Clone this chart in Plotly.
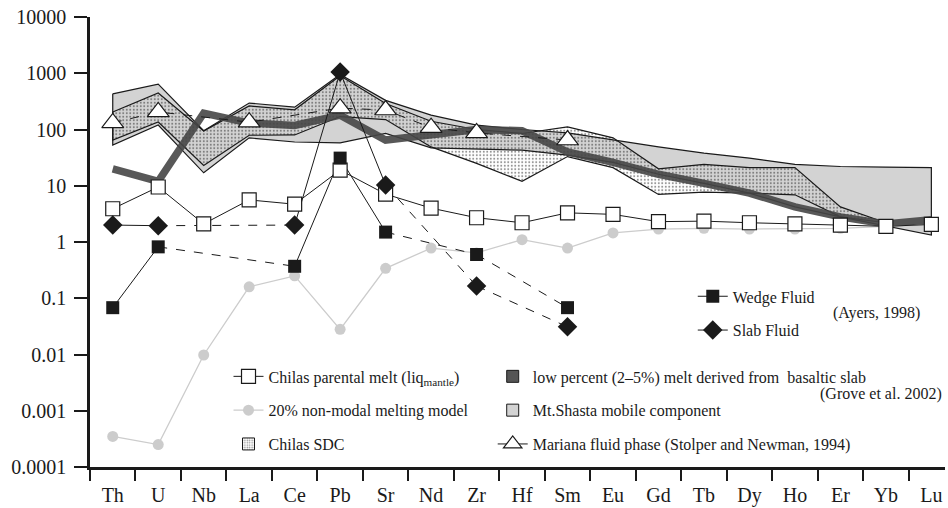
import plotly.graph_objects as go

cats = ["Th", "U", "Nb", "La", "Ce", "Pb", "Sr", "Nd", "Zr", "Hf", "Sm",
        "Eu", "Gd", "Tb", "Dy", "Ho", "Er", "Yb", "Lu"]

chilas_melt = [3.9, 9.5, 2.1, 5.6, 4.7, 19, 7.1, 4.0, 2.7, 2.2, 3.3,
               3.1, 2.3, 2.35, 2.2, 2.1, 2.0, 1.9, 2.05]
model20 = [0.00035, 0.00025, 0.0098, 0.16, 0.25, 0.028, 0.34, 0.78, 0.64, 1.1, 0.78,
           1.45, 1.7, 1.75, 1.7, 1.7, 1.75, 1.9, 2.0]
wedge_fluid = [0.068, 0.82, None, None, 0.37, 31, 1.5, None, 0.6, None, 0.068,
               None, None, None, None, None, None, None, None]
slab_fluid = [2.0, 1.95, None, None, 2.0, 1050, 10.3, None, 0.165, None, 0.031,
              None, None, None, None, None, None, None, None]
mariana = [131, 205, None, 135, None, 240, 222, 108, 87, None, 65,
           None, None, None, None, None, None, None, None]
low_melt = [20, 12, 195, 130, 118, 180, 65, 78, 100, 95, 40,
            26, 16, 11, 7.4, 4.2, 2.8, 2.1, 2.5]
shasta_top = [430, 640, 95, 295, 250, 950, 330, 180, 120, 100, 87,
              65, 49, 38, 31, 24, 22, 21.5, 21]
shasta_bot = [53, 120, 17, 71, 60, 58, 85, 47, 45, 43, 35,
              26, 16, 11, 7.4, 4.2, 2.8, 1.9, 1.33]
sdc_top = [205, 446, 94, 262, 224, 900, 290, 140, 100, 85, 111,
           71, 20, 24, 21, 21, 4.2, 2.2, None]
sdc_bot = [65, 136, 23, 79, 80, 170, 150, 49, 25, 12, 33,
           21, 7, 7.7, 7.4, 6.9, 2.8, 2.2, None]

# which neighbouring samples are joined by solid / dashed segments
fluid_solid = [(0, 1), (4, 5), (5, 6)]
fluid_dash = [(1, 4), (6, 8), (8, 10)]

FONT = "Liberation Serif"
INK = "#1a1a1a"


def band(top, bot):
    idx = [i for i in range(len(cats)) if top[i] is not None and bot[i] is not None]
    xs = [cats[i] for i in idx] + [cats[i] for i in reversed(idx)] + [cats[idx[0]]]
    ys = [top[i] for i in idx] + [bot[i] for i in reversed(idx)] + [top[idx[0]]]
    return xs, ys


def segs(vals, pairs):
    xs, ys = [], []
    for a, b in pairs:
        xs += [cats[a], cats[b], None]
        ys += [vals[a], vals[b], None]
    return xs, ys


def pts(vals):
    idx = [i for i, v in enumerate(vals) if v is not None]
    return [cats[i] for i in idx], [vals[i] for i in idx]


fig = go.Figure()

# Mt. Shasta band
bx, by = band(shasta_top, shasta_bot)
fig.add_trace(go.Scatter(x=bx, y=by, mode="lines", fill="toself", fillcolor="#d3d3d3",
                         line=dict(color=INK, width=1.2), showlegend=False, hoverinfo="skip"))
# Chilas SDC band
bx, by = band(sdc_top, sdc_bot)
fig.add_trace(go.Scatter(x=bx, y=by, mode="lines", fill="toself", fillcolor="rgba(0,0,0,0)",
                         fillpattern=dict(shape=".", fgcolor="#222", bgcolor="rgba(0,0,0,0)",
                                          size=3.5, solidity=0.25),
                         line=dict(color=INK, width=1.2), showlegend=False, hoverinfo="skip"))
# low percent melt (thick dark band)
fig.add_trace(go.Scatter(x=cats, y=low_melt, mode="lines",
                         line=dict(color="rgba(70,70,70,0.9)", width=7.5),
                         showlegend=False, hoverinfo="skip"))

# 20% non-modal melting model
fig.add_trace(go.Scatter(x=cats, y=model20, mode="lines+markers",
                         line=dict(color="#cccccc", width=1.3),
                         marker=dict(symbol="circle", size=11, color="#cccccc"),
                         name="20% non-modal melting model", legend="legend",
                         legendgroup="g2", legendrank=2))

# fluid lines
for vals in (wedge_fluid, slab_fluid):
    sx, sy = segs(vals, fluid_solid)
    fig.add_trace(go.Scatter(x=sx, y=sy, mode="lines", line=dict(color=INK, width=1),
                             showlegend=False, hoverinfo="skip"))
    dx, dy = segs(vals, fluid_dash)
    fig.add_trace(go.Scatter(x=dx, y=dy, mode="lines",
                             line=dict(color=INK, width=1, dash="dash"),
                             showlegend=False, hoverinfo="skip"))

# Chilas parental melt
fig.add_trace(go.Scatter(x=cats, y=chilas_melt, mode="lines+markers",
                         line=dict(color=INK, width=1),
                         marker=dict(symbol="square", size=14, color="white",
                                     line=dict(color=INK, width=1.2)),
                         name="Chilas parental melt (liq<sub>mantle</sub>)", legend="legend",
                         legendgroup="g1", legendrank=1))

# Mariana fluid (dashed in plot)
mx, my = pts(mariana)
fig.add_trace(go.Scatter(x=mx, y=my, mode="lines+markers",
                         line=dict(color=INK, width=1, dash="dash"),
                         marker=dict(symbol="triangle-up", size=19, color="white",
                                     line=dict(color=INK, width=1.2)),
                         showlegend=False))

# fluid markers
wx, wy = pts(wedge_fluid)
fig.add_trace(go.Scatter(x=wx, y=wy, mode="markers",
                         marker=dict(symbol="square", size=13, color=INK),
                         showlegend=False))
sx, sy = pts(slab_fluid)
fig.add_trace(go.Scatter(x=sx, y=sy, mode="markers",
                         marker=dict(symbol="diamond", size=15, color=INK),
                         showlegend=False))

# legend-only entries
fig.add_trace(go.Bar(x=[None], y=[None], name="Chilas SDC", legend="legend",
                     legendgroup="g3", legendrank=3,
                     marker=dict(color="white", line=dict(color=INK, width=1),
                                 pattern=dict(shape=".", fgcolor="#222", bgcolor="white",
                                              size=3, solidity=0.3))))
fig.add_trace(go.Bar(x=[None], y=[None], name="low percent (2–5%) melt derived from  basaltic slab",
                     legend="legend2", legendgroup="h1", legendrank=1,
                     marker=dict(color="#555555", line=dict(color=INK, width=1))))
fig.add_trace(go.Bar(x=[None], y=[None], name="Mt.Shasta mobile component",
                     legend="legend2", legendgroup="h2", legendrank=2,
                     marker=dict(color="#d3d3d3", line=dict(color=INK, width=1))))
fig.add_trace(go.Scatter(x=[None], y=[None], mode="lines+markers",
                         name="Mariana fluid phase (Stolper and Newman, 1994)",
                         legend="legend2", legendgroup="h3", legendrank=3,
                         line=dict(color=INK, width=1),
                         marker=dict(symbol="triangle-up", size=19, color="white",
                                     line=dict(color=INK, width=1.2))))
fig.add_trace(go.Scatter(x=[None], y=[None], mode="lines+markers", name="Wedge Fluid",
                         legend="legend3", legendgroup="k1", legendrank=1,
                         line=dict(color=INK, width=1),
                         marker=dict(symbol="square", size=13, color=INK)))
fig.add_trace(go.Scatter(x=[None], y=[None], mode="lines+markers", name="Slab Fluid",
                         legend="legend3", legendgroup="k2", legendrank=2,
                         line=dict(color=INK, width=1),
                         marker=dict(symbol="diamond", size=15, color=INK)))

leg_common = dict(bgcolor="rgba(0,0,0,0)", font=dict(family=FONT, size=16, color=INK),
                  traceorder="grouped", tracegroupgap=10, xanchor="left", yanchor="top",
                  itemclick=False)

yticks = [0.0001, 0.001, 0.01, 0.1, 1, 10, 100, 1000, 10000]
ytext = ["0.0001", "0.001", "0.01", "0.1", "1", "10", "100", "1000", "10000"]

fig.update_layout(
    width=948, height=508,
    margin=dict(l=90, r=3, t=17, b=41),
    paper_bgcolor="white", plot_bgcolor="white",
    font=dict(family=FONT, color=INK),
    showlegend=True,
    legend=dict(x=0.162, y=0.239, **leg_common),
    legend2=dict(x=0.471, y=0.239, **leg_common),
    legend3=dict(x=0.705, y=0.417, **leg_common),
    xaxis=dict(type="category", categoryorder="array", categoryarray=cats,
               range=[-0.5, 18.3], showgrid=False, zeroline=False, automargin=False,
               showline=True, linecolor=INK, linewidth=2.5,
               ticks="outside", ticklen=11, tickwidth=2, tickcolor=INK,
               tickson="boundaries", ticklabelstandoff=8,
               tickfont=dict(family=FONT, size=20, color=INK)),
    yaxis=dict(type="log", range=[-4, 4], showgrid=False, zeroline=False, automargin=False,
               showline=True, linecolor=INK, linewidth=2.5,
               ticks="outside", ticklen=13, tickwidth=2, tickcolor=INK,
               tickvals=yticks, ticktext=ytext, ticklabelstandoff=4,
               tickfont=dict(family=FONT, size=20, color=INK)),
    annotations=[
        dict(text="(Grove et al. 2002)", xref="paper", yref="paper", x=0.999, y=0.162,
             xanchor="right", yanchor="middle", showarrow=False,
             font=dict(family=FONT, size=16, color=INK)),
        dict(text="(Ayers, 1998)", xref="paper", yref="paper", x=0.973, y=0.342,
             xanchor="right", yanchor="middle", showarrow=False,
             font=dict(family=FONT, size=16, color=INK)),
    ],
)

fig.write_html("out.html", config={"displayModeBar": False},
               post_script="document.body.style.margin='0px';")
